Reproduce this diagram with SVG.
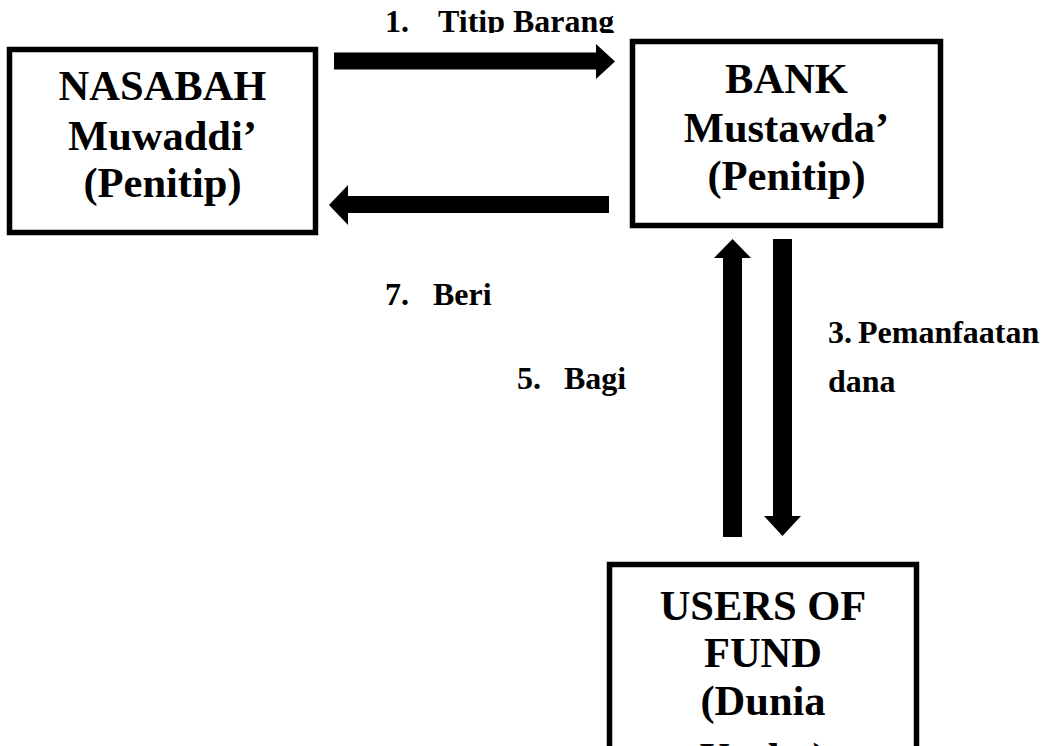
<svg xmlns="http://www.w3.org/2000/svg" width="1047" height="746" viewBox="0 0 1047 746">
<style>
.box{fill:#fff;stroke:#000;stroke-width:5.5}
.nt{font-family:"Liberation Serif","Times New Roman",serif;font-weight:bold;font-size:42.5px;fill:#000;text-anchor:middle}
.lb{font-family:"Liberation Serif","Times New Roman",serif;font-weight:bold;font-size:32px;fill:#000}
.arr{fill:#000}
</style>
<defs>
<clipPath id="clipTitip"><rect x="370" y="0" width="260" height="33"/></clipPath>
</defs>
<rect width="1047" height="746" fill="#fff"/>
<g id="nasabah">
<rect class="box" x="9.5" y="49.5" width="306" height="183"/>
<text class="nt" x="162.5" y="100">NASABAH</text>
<text class="nt" x="162.5" y="150">Muwaddi’</text>
<text class="nt" x="162.5" y="197">(Penitip)</text>
</g>
<g id="bank">
<rect class="box" x="632.5" y="41.5" width="308" height="184"/>
<text class="nt" x="786.5" y="93">BANK</text>
<text class="nt" x="786.5" y="142">Mustawda’</text>
<text class="nt" x="786.5" y="190">(Penitip)</text>
</g>
<g id="users">
<rect class="box" x="609.5" y="564.5" width="307" height="200"/>
<text class="nt" x="763" y="620">USERS OF</text>
<text class="nt" x="763" y="667">FUND</text>
<text class="nt" x="763" y="715">(Dunia</text>
<text class="nt" x="763" y="772">Usaha)</text>
</g>
<g id="connectors">
<polygon class="arr" points="334,52.5 596,52.5 596,44 615,61.5 596,79 596,69.5 334,69.5"/>
<polygon class="arr" points="609,196 348,196 348,185 329,205 348,225 348,213 609,213"/>
<polygon class="arr" points="723,537 723,258 714,258 732.5,239 751,258 742,258 742,537"/>
<polygon class="arr" points="773,239 792,239 792,516 801,516 782.5,536 764,516 773,516"/>
</g>
<g id="labels">
<g clip-path="url(#clipTitip)">
<text class="lb" y="32"><tspan x="385">1.</tspan><tspan x="438">Titip Barang</tspan></text>
</g>
<text class="lb" y="305"><tspan x="385">7.</tspan><tspan x="433">Beri</tspan></text>
<text class="lb" y="389"><tspan x="517">5.</tspan><tspan x="564">Bagi</tspan></text>
<text class="lb" y="343"><tspan x="828">3.</tspan><tspan x="858">Pemanfaatan</tspan></text>
<text class="lb" x="828" y="392">dana</text>
</g>
</svg>
